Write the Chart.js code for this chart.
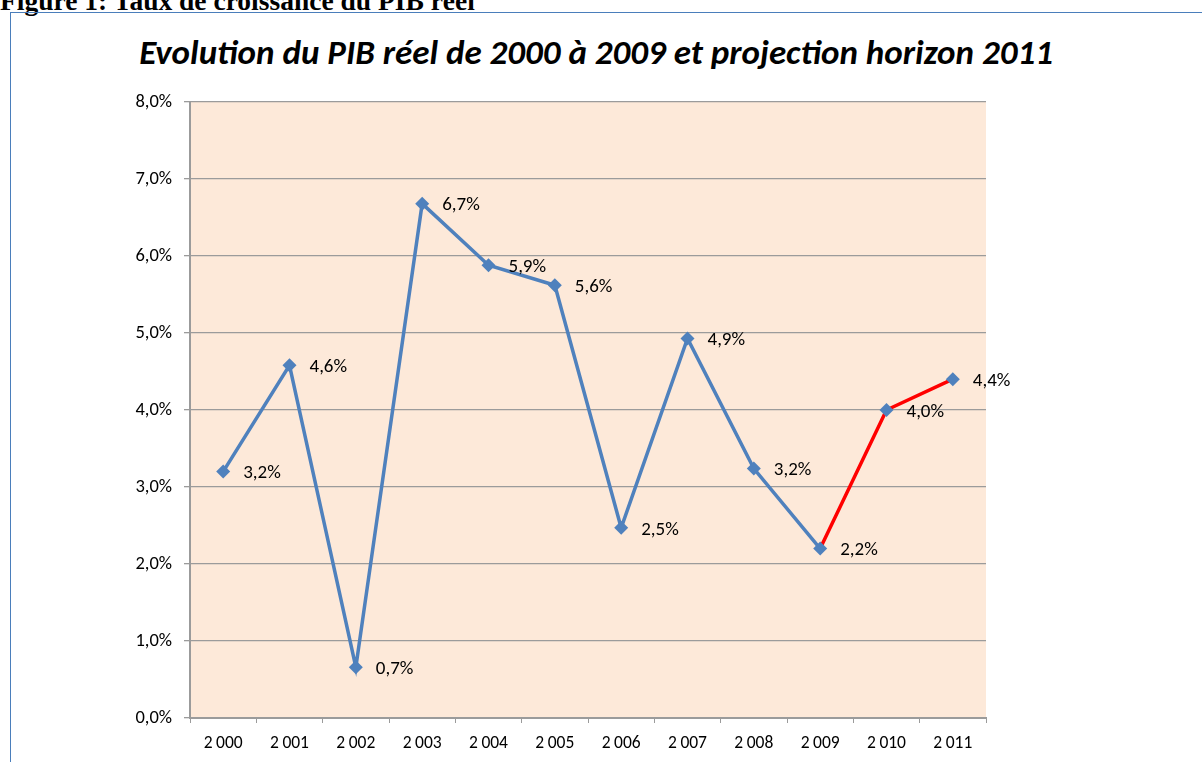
<!DOCTYPE html>
<html>
<head>
<meta charset="utf-8">
<script src="https://cdn.jsdelivr.net/npm/chart.js@4.4.1/dist/chart.umd.min.js"></script>
<style>
    html, body { margin: 0; padding: 0; background: #fff; overflow: hidden; }
    #page { position: relative; width: 1202px; height: 762px; overflow: hidden; }
    #header {
        position: absolute; left: 0; top: -15px; white-space: nowrap; line-height: 27px;
        font: bold 27.5px "Liberation Serif", "Times New Roman", serif; color: #000;
    }
    #frame {
        position: absolute; left: 10px; top: 12px; width: 1300px; height: 900px;
        border: 1px solid #4a7ebb;
    }
    #title {
        position: absolute; left: 0; width: 1192px; top: 31px; text-align: center; line-height: 35px;
        font: italic bold 35px Carlito, Lato, sans-serif; color: #000; white-space: nowrap;
    }
    canvas { position: absolute; left: 0; top: 0; }
</style>
</head>
<body>
<div id="page">
    <div id="header">Figure 1: Taux de croissance du PIB réel</div>
    <div id="frame"></div>
    <div id="title">Evolution du PIB réel de 2000 à 2009 et projection horizon 2011</div>
    <canvas id="pibChart" width="1202" height="762"></canvas>
</div>

<script>
// ============================================
// DATA
// ============================================

const years = [2000, 2001, 2002, 2003, 2004, 2005, 2006, 2007, 2008, 2009, 2010, 2011];
const yearLabels = ['2\u2009000', '2\u2009001', '2\u2009002', '2\u2009003', '2\u2009004', '2\u2009005',
                    '2\u2009006', '2\u2009007', '2\u2009008', '2\u2009009', '2\u2009010', '2\u2009011'];
const croissancePib = [3.2, 4.58, 0.66, 6.68, 5.88, 5.62, 2.47, 4.93, 3.24, 2.2, 4.0, 4.4];
const yTicks = [0, 1, 2, 3, 4, 5, 6, 7, 8];
const projectionStart = 9; // index of 2009, segments after it are the projection

const FONT = 'Carlito, Lato, sans-serif';
const BLUE = '#4f81bd';
const RED = '#ff0000';
const GRID = '#9b9b9b';

function formatPct(v) {
    return v.toFixed(1).replace('.', ',') + '%';
}

/**
 * Plot area background
 */
const plotBackground = {
    id: 'plotBackground',
    beforeDraw(chart) {
        const { ctx, chartArea } = chart;
        ctx.save();
        ctx.fillStyle = '#fde9d9';
        ctx.fillRect(chartArea.left, chartArea.top, chartArea.right - chartArea.left, chartArea.bottom - chartArea.top);
        ctx.restore();
    }
};

/**
 * Value labels to the right of each point
 */
const pointLabels = {
    id: 'pointLabels',
    afterDatasetsDraw(chart) {
        const { ctx } = chart;
        const meta = chart.getDatasetMeta(0);
        ctx.save();
        ctx.font = '19px ' + FONT;
        ctx.fillStyle = '#000';
        ctx.textAlign = 'left';
        ctx.textBaseline = 'middle';
        meta.data.forEach((pt, i) => {
            ctx.fillText(formatPct(croissancePib[i]), pt.x + 20, pt.y + 2);
        });
        ctx.restore();
    }
};

new Chart(document.getElementById('pibChart'), {
    type: 'line',
    data: {
        labels: yearLabels,
        datasets: [{
            label: 'PIB réel',
            data: croissancePib,
            borderColor: BLUE,
            borderWidth: 3.5,
            tension: 0,
            pointStyle: 'rectRot',
            pointRadius: 7,
            pointBackgroundColor: BLUE,
            pointBorderColor: BLUE,
            pointBorderWidth: 0,
            segment: {
                borderColor: ctx => ctx.p0DataIndex >= projectionStart ? RED : BLUE
            }
        }]
    },
    options: {
        responsive: false,
        animation: false,
        layout: { padding: { left: 130, top: 102, right: 216, bottom: 0 } },
        plugins: {
            legend: { display: false },
            title: { display: false },
            tooltip: { enabled: false }
        },
        scales: {
            x: {
                type: 'category',
                offset: true,
                afterFit: scale => { scale.height = 44; },
                grid: { offset: true, drawOnChartArea: false, drawTicks: true, tickLength: 5, color: GRID },
                border: { color: GRID, width: 2 },
                ticks: { color: '#000', font: { family: FONT, size: 17.5 }, padding: 10, maxRotation: 0, autoSkip: false }
            },
            y: {
                min: yTicks[0],
                max: yTicks[yTicks.length - 1],
                afterFit: scale => { scale.width = 60; },
                afterBuildTicks: scale => { scale.ticks = yTicks.map(v => ({ value: v })); },
                grid: { color: GRID, lineWidth: 1.3, drawTicks: true, tickLength: 6 },
                border: { color: GRID, width: 2 },
                ticks: {
                    color: '#000',
                    font: { family: FONT, size: 18.5 },
                    padding: 12,
                    callback: v => formatPct(v)
                }
            }
        }
    },
    plugins: [plotBackground, pointLabels]
});
</script>
</body>
</html>
